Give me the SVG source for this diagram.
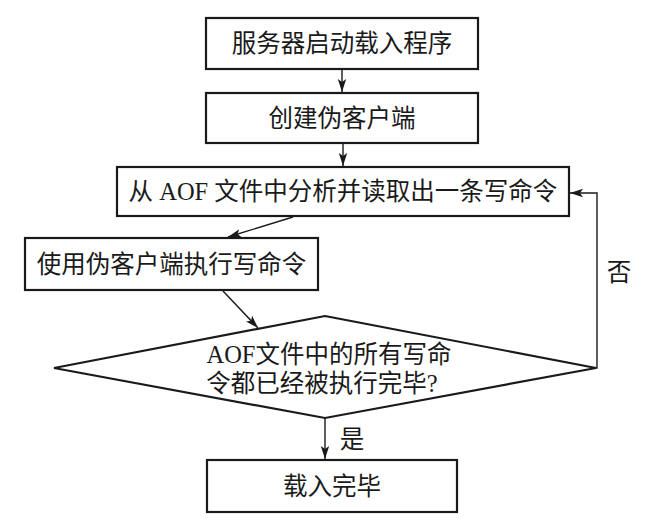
<svg xmlns="http://www.w3.org/2000/svg" width="665" height="524" viewBox="0 0 665 524">
  <style>
    .box { fill: #ffffff; stroke: #1a1a1a; stroke-width: 2.2; }
    .t { font-family: "Liberation Serif", "Noto Sans CJK SC", serif; font-size: 24.5px; fill: #1a1a1a; text-anchor: middle; }
    .conn { fill: none; stroke: #1a1a1a; stroke-width: 1.4; }
  </style>
  <defs>
    <marker id="ah" markerUnits="userSpaceOnUse" markerWidth="14" markerHeight="10" refX="13" refY="5" orient="auto">
      <path d="M0,0.8 L13,5 L0,9.2 L3,5 Z" fill="#1a1a1a"/>
    </marker>
  </defs>
  <rect width="665" height="524" fill="#ffffff"/>

  <g id="n1">
    <rect class="box" x="206" y="18" width="272" height="51"/>
    <text class="t" x="342" y="52">服务器启动载入程序</text>
  </g>
  <g id="n2">
    <rect class="box" x="206" y="93" width="272" height="50"/>
    <text class="t" x="342" y="127">创建伪客户端</text>
  </g>
  <g id="n3">
    <rect class="box" x="117" y="167" width="452" height="49"/>
    <text class="t" x="343" y="200">从 AOF 文件中分析并读取出一条写命令</text>
  </g>
  <g id="n4">
    <rect class="box" x="25" y="238" width="293" height="52"/>
    <text class="t" x="171.5" y="273">使用伪客户端执行写命令</text>
  </g>
  <g id="n5">
    <polygon class="box" points="325,316 596,368 325,418 54,368"/>
    <text class="t" x="329" y="363">AOF文件中的所有写命</text>
    <text class="t" x="322" y="392">令都已经被执行完毕?</text>
  </g>
  <g id="n6">
    <rect class="box" x="207" y="460" width="250" height="52"/>
    <text class="t" x="332" y="495">载入完毕</text>
  </g>

  <g id="connectors">
    <line class="conn" x1="342" y1="69" x2="342" y2="92" marker-end="url(#ah)"/>
    <line class="conn" x1="343" y1="143" x2="343" y2="166" marker-end="url(#ah)"/>
    <line class="conn" x1="293" y1="217" x2="228" y2="237" marker-end="url(#ah)"/>
    <line class="conn" x1="223" y1="291" x2="258" y2="328" marker-end="url(#ah)"/>
    <line class="conn" x1="325" y1="418" x2="325" y2="459" marker-end="url(#ah)"/>
    <polyline class="conn" points="596,368 597,368 597,193 570,193" marker-end="url(#ah)"/>
    <text class="t" x="352" y="448">是</text>
    <text class="t" x="619" y="281">否</text>
  </g>
</svg>
